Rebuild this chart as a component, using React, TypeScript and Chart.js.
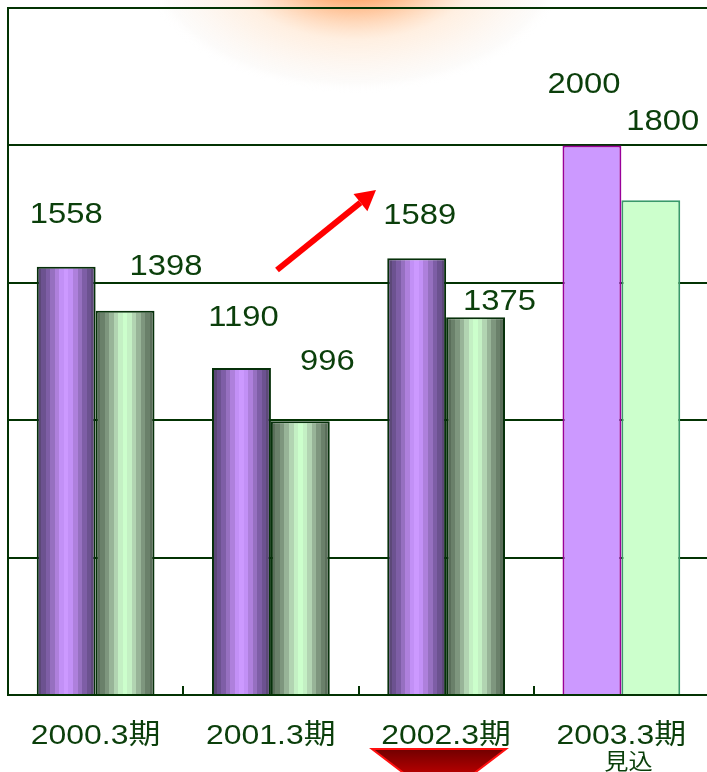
import React, { useEffect, useRef } from "react";
import { Chart, registerables } from "chart.js";

Chart.register(...registerables);

const categories = ["2000.3期", "2001.3期", "2002.3期", "2003.3期"];
const subLabels = ["", "", "", "見込"];
const salesA = [1558, 1190, 1589, 2000];
const salesB = [1398, 996, 1375, 1800];
const yTicks = [0, 500, 1000, 1500, 2000, 2500];

// label offsets in pixels (dx, dy) relative to bar center / bar top
const labelOffA = [[0, -52], [2, -50], [3, -42], [-8, -60]];
const labelOffB = [[41, -44], [27, -59], [24, -15], [12, -78]];

const CAT_PCT = 0.672;
const FONT = '"Liberation Sans", "Noto Sans CJK JP", Arial, sans-serif';
const TEXT_COLOR = "#0b3f0b";
const LINE_COLOR = "#033303";

const purpleBands = ["#5c4878", "#6c5290", "#7e5ea6", "#9670c0", "#ae80dc", "#c290f6", "#cc99ff"];
const greenBands = ["#5a6e5a", "#6a806a", "#7e967e", "#98b498", "#b2d4b2", "#c4f0c4", "#ccffcc"];

function bandGradient(ctx: CanvasRenderingContext2D, x0: number, x1: number, bands: string[]) {
  const g = ctx.createLinearGradient(x0, 0, x1, 0);
  const seq = [...bands, ...bands.slice(0, bands.length - 1).reverse()];
  const n = seq.length;
  for (let i = 0; i < n; i++) {
    const a = i / n;
    const b = (i + 1) / n;
    g.addColorStop(a, seq[i]);
    g.addColorStop(Math.min(1, b - 0.0001), seq[i]);
  }
  return g;
}

function stretchText(ctx: CanvasRenderingContext2D, text: string, x: number, y: number, size: number, sx: number) {
  ctx.save();
  ctx.translate(x, y);
  ctx.scale(sx, 1);
  ctx.font = `${size}px ${FONT}`;
  ctx.fillStyle = TEXT_COLOR;
  ctx.textAlign = "center";
  ctx.textBaseline = "middle";
  ctx.fillText(text, 0, 0);
  ctx.restore();
}

const decorPlugin = {
  id: "decor",
  beforeDraw(chart: any) {
    const ctx = chart.ctx as CanvasRenderingContext2D;
    ctx.save();
    ctx.translate(355, -40);
    ctx.scale(1, 0.62);
    const halo = ctx.createRadialGradient(0, 0, 0, 0, 0, 215);
    halo.addColorStop(0, "rgba(255,140,60,1)");
    halo.addColorStop(0.3, "rgba(255,155,85,0.8)");
    halo.addColorStop(0.6, "rgba(255,210,170,0.35)");
    halo.addColorStop(0.92, "rgba(245,240,235,0.25)");
    halo.addColorStop(1, "rgba(255,255,255,0)");
    ctx.fillStyle = halo;
    ctx.beginPath();
    ctx.arc(0, 0, 215, 0, Math.PI * 2);
    ctx.fill();
    ctx.restore();
  },
  beforeDatasetsDraw(chart: any) {
    const ctx = chart.ctx as CanvasRenderingContext2D;
    [purpleBands, greenBands].forEach((bands, ds) => {
      const meta = chart.getDatasetMeta(ds);
      meta.data.forEach((el: any, i: number) => {
        if (i === categories.length - 1) return;
        const l = el.x - el.width / 2;
        const r = el.x + el.width / 2;
        if (!Number.isFinite(l) || !Number.isFinite(r)) return;
        el.options.backgroundColor = bandGradient(ctx, l, r, bands);
      });
    });
  },
  afterDraw(chart: any) {
    const ctx = chart.ctx as CanvasRenderingContext2D;
    const area = chart.chartArea;
    const ys = chart.scales.y;
    const xs = chart.scales.x;
    const catW = xs.width / categories.length;

    ctx.save();
    ctx.strokeStyle = LINE_COLOR;
    ctx.lineWidth = 2;
    for (let k = 1; k < categories.length; k++) {
      const x = Math.round(area.left + k * catW);
      ctx.beginPath();
      ctx.moveTo(x, area.bottom);
      ctx.lineTo(x, area.bottom - 9);
      ctx.stroke();
    }
    ctx.restore();

    const ma = chart.getDatasetMeta(0).data;
    const mb = chart.getDatasetMeta(1).data;
    for (let i = 0; i < categories.length; i++) {
      stretchText(ctx, String(salesA[i]), ma[i].x + labelOffA[i][0], ys.getPixelForValue(salesA[i]) + labelOffA[i][1], 29, 1.13);
      stretchText(ctx, String(salesB[i]), mb[i].x + labelOffB[i][0], ys.getPixelForValue(salesB[i]) + labelOffB[i][1], 29, 1.13);
    }

    for (let i = 0; i < categories.length; i++) {
      const cx = xs.getPixelForValue(i);
      stretchText(ctx, categories[i], cx, area.bottom + 41, 28, 1.14);
      if (subLabels[i]) stretchText(ctx, subLabels[i], cx + 7, area.bottom + 68, 22, 1.1);
    }

    ctx.save();
    const x0 = 277, y0 = 270, x1 = 376, y1 = 190;
    const ang = Math.atan2(y1 - y0, x1 - x0);
    const headL = 20, headW = 11;
    const bx = x1 - headL * Math.cos(ang), by = y1 - headL * Math.sin(ang);
    ctx.strokeStyle = "#ff0000";
    ctx.fillStyle = "#ff0000";
    ctx.lineWidth = 6;
    ctx.beginPath();
    ctx.moveTo(x0, y0);
    ctx.lineTo(bx, by);
    ctx.stroke();
    ctx.beginPath();
    ctx.moveTo(x1, y1);
    ctx.lineTo(bx + headW * Math.sin(ang), by - headW * Math.cos(ang));
    ctx.lineTo(bx - headW * Math.sin(ang), by + headW * Math.cos(ang));
    ctx.closePath();
    ctx.fill();
    ctx.restore();

    ctx.save();
    const tg = ctx.createLinearGradient(0, 748, 0, 780);
    tg.addColorStop(0, "#6e0000");
    tg.addColorStop(1, "#c80000");
    ctx.fillStyle = tg;
    ctx.strokeStyle = "#ff1010";
    ctx.lineWidth = 2;
    ctx.beginPath();
    ctx.moveTo(372, 749);
    ctx.lineTo(506, 749);
    ctx.lineTo(439, 800);
    ctx.closePath();
    ctx.fill();
    ctx.stroke();
    ctx.restore();
  },
};

export default function App() {
  const ref = useRef<HTMLCanvasElement>(null);
  useEffect(() => {
    if (!ref.current) return;
    const chart = new Chart(ref.current, {
      type: "bar",
      data: {
        labels: categories,
        datasets: [
          {
            data: salesA,
            backgroundColor: "#cc99ff",
            borderColor: (c: any) => (c.dataIndex === 3 ? "#990099" : "#06300a"),
            borderWidth: 2,
            borderSkipped: "bottom",
            barPercentage: 1,
            categoryPercentage: CAT_PCT,
          },
          {
            data: salesB,
            backgroundColor: "#ccffcc",
            borderColor: (c: any) => (c.dataIndex === 3 ? "#3a9a6a" : "#06300a"),
            borderWidth: 2,
            borderSkipped: "bottom",
            barPercentage: 1,
            categoryPercentage: CAT_PCT,
          },
        ],
      },
      options: {
        responsive: false,
        animation: false,
        devicePixelRatio: 1,
        layout: { padding: { left: 8, top: 8, right: 11, bottom: 77 } },
        plugins: { legend: { display: false }, tooltip: { enabled: false } },
        scales: {
          x: {
            ticks: { display: false },
            grid: { display: false, drawTicks: false },
            border: { display: true, color: LINE_COLOR, width: 2 },
          },
          y: {
            min: yTicks[0],
            max: yTicks[yTicks.length - 1],
            afterBuildTicks: (s: any) => {
              s.ticks = yTicks.map((v) => ({ value: v }));
            },
            ticks: { display: false },
            grid: { color: LINE_COLOR, lineWidth: 2, drawTicks: false },
            border: { display: true, color: LINE_COLOR, width: 2 },
          },
        },
      },
      plugins: [decorPlugin],
    });
    return () => chart.destroy();
  }, []);
  return (
    <div style={{ position: "fixed", left: 0, top: 0, width: 707, height: 772, overflow: "hidden", background: "#fff" }}>
      <canvas ref={ref} width={720} height={772} style={{ display: "block" }} />
    </div>
  );
}
